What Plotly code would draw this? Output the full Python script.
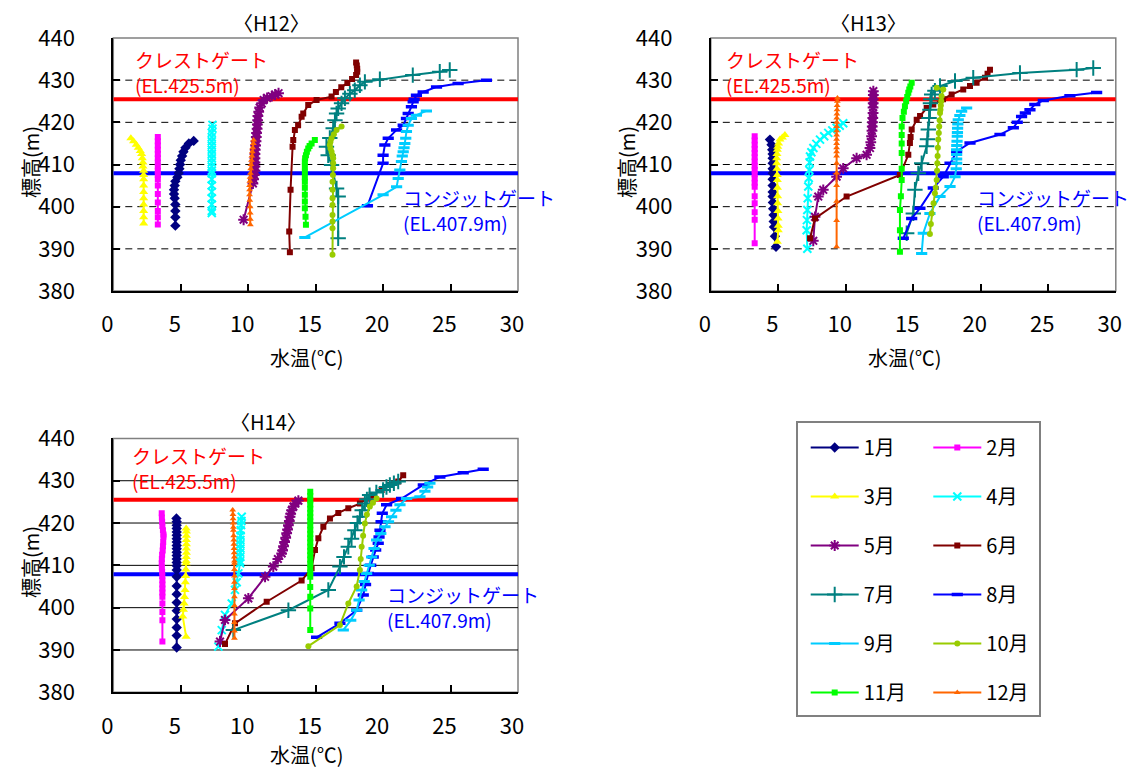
import plotly.graph_objects as go

# the page body adds an 8 px margin, so the figure is drawn 8 px smaller and
# every reference pixel position is shifted by that offset
OFF = 8
W, H = 1142 - OFF, 769 - OFF

# ---------------- data ----------------
X_RANGE = [0, 30]
Y_RANGE = [380, 440]
X_TICKS = [0, 5, 10, 15, 20, 25, 30]
Y_TICKS = [380, 390, 400, 410, 420, 430, 440]
GRID_EL = [390, 400, 410, 420, 430]
CREST_EL = 425.5
CONDUIT_EL = 407.9
MONTHS = ["1月", "2月", "3月", "4月", "5月", "6月", "7月", "8月", "9月", "10月", "11月", "12月"]
PANEL_TITLES = ["〈H12〉", "〈H13〉", "〈H14〉"]

# ---- H12 ----
H12_M01_E = [415.6, 415.0, 414.0, 413.0, 412.0, 411.0, 410.0, 409.0, 408.0, 407.0, 406.0, 405.0, 404.0, 403.0, 402.0, 400.5, 399.0, 397.5, 395.5]
H12_M01_T = [5.96, 5.6, 5.35, 5.2, 5.1, 5.0, 4.95, 4.9, 4.85, 4.75, 4.6, 4.55, 4.5, 4.5, 4.55, 4.6, 4.6, 4.6, 4.6]
H12_M02_E = [416.5, 415.5, 414.5, 413.5, 412.5, 411.5, 410.5, 409.5, 408.5, 407.5, 406.5, 405.0, 403.0, 401.0, 399.0, 397.5, 395.8]
H12_M02_T = [3.3, 3.3, 3.3, 3.3, 3.3, 3.3, 3.3, 3.3, 3.3, 3.3, 3.3, 3.3, 3.3, 3.3, 3.3, 3.3, 3.3]
H12_M03_E = [416.2, 415.5, 414.7, 414.0, 413.2, 412.5, 411.5, 410.5, 409.5, 408.5, 407.5, 406.5, 405.0, 403.5, 402.0, 400.5, 399.0, 397.5, 396.0]
H12_M03_T = [1.3, 1.5, 1.7, 1.85, 2.0, 2.1, 2.15, 2.2, 2.2, 2.25, 2.25, 2.25, 2.25, 2.25, 2.25, 2.25, 2.25, 2.25, 2.25]
H12_M04_E = [419.4, 418.5, 417.5, 416.5, 415.5, 414.5, 413.5, 412.5, 411.5, 410.5, 409.5, 408.5, 407.9, 406.5, 405.0, 403.5, 402.0, 400.5, 399.0, 398.5]
H12_M04_T = [7.35, 7.35, 7.3, 7.3, 7.3, 7.3, 7.3, 7.3, 7.3, 7.3, 7.3, 7.3, 7.3, 7.3, 7.3, 7.3, 7.3, 7.3, 7.3, 7.3]
H12_M05_E = [426.9, 426.6, 426.2, 425.8, 425.3, 424.5, 423.5, 422.5, 421.5, 420.5, 419.5, 418.5, 417.5, 416.5, 415.5, 414.5, 413.5, 412.5, 411.5, 410.5, 409.5, 408.5, 407.5, 406.5, 405.5, 396.9]
H12_M05_T = [12.25, 12.0, 11.75, 11.4, 11.15, 11.0, 10.85, 10.78, 10.72, 10.7, 10.68, 10.66, 10.62, 10.6, 10.58, 10.55, 10.52, 10.5, 10.5, 10.5, 10.5, 10.5, 10.45, 10.4, 10.35, 9.66]
H12_M06_E = [434.2, 433.5, 432.7, 432.0, 431.2, 430.3, 429.3, 428.3, 427.2, 426.1, 425.3, 424.1, 422.1, 421.3, 419.3, 418.2, 415.8, 414.2, 404.0, 394.1, 389.2]
H12_M06_T = [18.0, 18.05, 18.08, 18.08, 18.0, 17.7, 17.35, 16.9, 16.5, 16.18, 15.07, 14.45, 14.08, 13.96, 13.7, 13.46, 13.34, 13.29, 13.14, 13.04, 13.09]
H12_M07_E = [432.4, 432.0, 431.2, 430.2, 429.6, 428.8, 427.6, 426.8, 425.7, 424.5, 423.3, 422.1, 420.5, 418.6, 416.3, 414.2, 412.2, 409.9, 404.3, 402.4, 392.5]
H12_M07_T = [24.94, 24.2, 22.2, 19.76, 18.65, 18.28, 17.9, 17.54, 17.17, 16.92, 16.67, 16.55, 16.43, 16.3, 16.05, 15.8, 15.93, 16.18, 16.55, 16.67, 16.67]
H12_M08_E = [430.0, 429.2, 428.4, 427.2, 426.4, 425.5, 424.9, 423.7, 422.1, 420.9, 419.3, 418.2, 416.2, 414.6, 412.2, 410.3, 400.2]
H12_M08_T = [27.66, 25.56, 23.96, 22.97, 22.47, 22.3, 22.23, 22.1, 21.86, 21.73, 21.49, 21.0, 20.38, 20.13, 20.0, 20.0, 18.84]
H12_M09_E = [422.7, 421.7, 420.9, 419.3, 417.8, 416.2, 415.0, 414.0, 413.0, 412.0, 410.7, 408.7, 406.7, 404.7, 402.8, 392.7]
H12_M09_T = [23.21, 22.47, 22.1, 21.86, 21.73, 21.68, 21.61, 21.55, 21.49, 21.42, 21.36, 21.24, 21.12, 21.0, 20.0, 14.2]
H12_M10_E = [419.0, 418.2, 417.2, 416.2, 415.4, 414.6, 413.8, 413.0, 412.2, 411.5, 410.3, 409.1, 407.5, 405.9, 404.0, 402.0, 400.4, 398.0, 396.5, 394.9, 388.6]
H12_M10_T = [16.92, 16.55, 16.35, 16.18, 16.1, 16.05, 16.1, 16.18, 16.25, 16.3, 16.3, 16.3, 16.28, 16.25, 16.25, 16.25, 16.25, 16.25, 16.25, 16.25, 16.25]
H12_M11_E = [415.8, 415.0, 414.4, 413.8, 413.0, 412.2, 411.5, 410.7, 409.5, 408.3, 407.0, 405.9, 404.5, 402.8, 401.2, 399.6, 397.6, 395.7]
H12_M11_T = [14.94, 14.7, 14.55, 14.45, 14.35, 14.28, 14.22, 14.2, 14.2, 14.2, 14.2, 14.2, 14.2, 14.2, 14.2, 14.2, 14.25, 14.28]
H12_M12_E = [415.8, 415.0, 414.0, 413.0, 412.0, 411.0, 410.0, 409.0, 407.9, 407.0, 406.0, 405.0, 404.0, 402.8, 401.5, 400.0, 398.5, 397.0, 395.7]
H12_M12_T = [10.4, 10.38, 10.33, 10.3, 10.27, 10.24, 10.2, 10.18, 10.16, 10.14, 10.12, 10.1, 10.1, 10.1, 10.12, 10.14, 10.15, 10.16, 10.16]

# ---- H13 ----
H13_M01_E = [415.9, 414.7, 413.5, 412.5, 411.5, 410.3, 409.0, 407.9, 406.5, 405.0, 403.5, 402.4, 401.0, 399.5, 398.0, 396.5, 395.2, 393.0, 390.5]
H13_M01_T = [4.38, 4.5, 4.55, 4.58, 4.58, 4.58, 4.58, 4.58, 4.58, 4.58, 4.58, 4.58, 4.6, 4.62, 4.65, 4.66, 4.68, 4.75, 4.83]
H13_M02_E = [416.7, 415.7, 414.7, 413.7, 412.7, 411.7, 410.7, 409.7, 408.7, 407.7, 406.7, 405.7, 404.7, 402.5, 400.8, 398.7, 396.9, 391.3]
H13_M02_T = [3.25, 3.25, 3.25, 3.25, 3.25, 3.25, 3.25, 3.25, 3.25, 3.25, 3.25, 3.25, 3.25, 3.25, 3.25, 3.25, 3.25, 3.25]
H13_M03_E = [417.0, 416.4, 415.9, 415.0, 414.2, 413.5, 412.5, 411.5, 410.3, 409.0, 407.5, 406.3, 404.5, 402.5, 400.8, 399.0, 397.2, 395.5, 394.4, 391.7]
H13_M03_T = [5.49, 5.3, 5.12, 5.02, 4.96, 4.93, 4.9, 4.88, 4.88, 4.9, 4.92, 4.93, 4.94, 4.95, 4.95, 4.97, 4.98, 5.0, 5.0, 4.93]
H13_M04_E = [419.8, 419.2, 418.7, 418.1, 417.5, 416.7, 415.9, 414.9, 413.9, 412.9, 411.9, 410.5, 408.7, 406.8, 404.8, 402.0, 399.2, 396.8, 394.4, 390.0]
H13_M04_T = [9.81, 9.55, 9.32, 9.0, 8.7, 8.4, 8.09, 7.82, 7.6, 7.45, 7.35, 7.32, 7.3, 7.26, 7.22, 7.18, 7.15, 7.12, 7.1, 7.15]
H13_M05_E = [427.4, 426.5, 425.5, 424.5, 423.5, 422.2, 421.0, 420.0, 419.0, 418.0, 416.7, 415.3, 413.9, 412.3, 411.5, 409.1, 407.1, 404.0, 402.4, 397.6, 391.9]
H13_M05_T = [12.04, 12.04, 12.04, 12.03, 12.02, 12.02, 12.0, 11.98, 11.96, 11.94, 11.91, 11.85, 11.79, 11.54, 10.8, 9.81, 9.32, 8.33, 7.96, 7.72, 7.59]
H13_M06_E = [432.5, 431.5, 430.6, 429.4, 428.6, 427.8, 426.6, 425.5, 424.2, 423.4, 421.5, 420.6, 418.3, 416.5, 415.1, 412.3, 407.5, 402.4, 397.2, 392.5]
H13_M06_T = [20.68, 20.5, 20.31, 19.69, 19.2, 18.7, 17.84, 17.2, 16.48, 15.99, 15.5, 15.25, 14.88, 14.8, 14.75, 14.63, 14.01, 10.06, 7.72, 7.35]
H13_M07_E = [432.9, 432.5, 431.7, 430.6, 429.8, 428.6, 427.5, 426.6, 425.5, 424.5, 423.0, 421.0, 418.3, 416.0, 414.3, 410.3, 407.9, 404.0, 398.4, 393.7]
H13_M07_T = [28.33, 27.1, 22.9, 19.44, 18.09, 16.98, 16.6, 16.36, 16.3, 16.27, 16.23, 16.17, 16.11, 16.05, 15.99, 15.62, 15.37, 15.12, 15.0, 14.51]
H13_M08_E = [427.1, 426.3, 425.2, 424.2, 423.0, 422.2, 421.4, 420.0, 418.7, 417.1, 415.1, 413.1, 410.3, 407.1, 404.4, 399.6, 397.2, 392.5]
H13_M08_T = [28.58, 26.6, 24.63, 24.0, 23.64, 23.3, 23.02, 22.7, 22.41, 21.42, 19.2, 18.21, 17.72, 17.22, 16.48, 15.49, 14.88, 14.26]
H13_M09_E = [423.4, 422.6, 421.6, 420.6, 419.6, 418.6, 417.6, 416.7, 415.5, 414.5, 413.5, 412.4, 411.3, 410.3, 409.0, 407.1, 404.8, 402.4, 398.4, 393.7, 388.9]
H13_M09_T = [18.95, 18.58, 18.45, 18.33, 18.3, 18.28, 18.27, 18.26, 18.24, 18.22, 18.21, 18.21, 18.21, 18.21, 18.18, 18.09, 17.72, 16.98, 16.23, 15.74, 15.62]
H13_M10_E = [428.2, 427.8, 426.2, 425.0, 424.0, 423.0, 422.2, 420.5, 419.0, 417.5, 415.9, 414.0, 412.0, 410.3, 408.5, 406.3, 404.5, 403.2, 400.8, 398.4, 395.9, 393.5]
H13_M10_T = [16.73, 17.22, 17.1, 17.07, 17.04, 17.01, 16.98, 16.95, 16.92, 16.89, 16.85, 16.82, 16.8, 16.78, 16.76, 16.73, 16.66, 16.6, 16.5, 16.36, 16.3, 16.23]
H13_M11_E = [429.4, 428.5, 427.8, 427.0, 426.0, 425.0, 423.8, 422.5, 421.0, 419.0, 417.0, 415.0, 412.7, 409.0, 406.3, 402.5, 399.2, 394.4, 389.3]
H13_M11_T = [14.88, 14.78, 14.7, 14.63, 14.55, 14.47, 14.38, 14.3, 14.2, 14.14, 14.14, 14.14, 14.14, 14.14, 14.14, 14.08, 14.01, 14.01, 14.01]
H13_M12_E = [425.8, 425.0, 424.0, 423.0, 422.0, 421.0, 420.0, 419.0, 418.0, 417.0, 416.0, 415.0, 414.0, 413.0, 412.0, 410.3, 408.0, 405.0, 401.3, 396.7, 390.5]
H13_M12_T = [9.38, 9.37, 9.36, 9.35, 9.34, 9.33, 9.33, 9.32, 9.32, 9.32, 9.32, 9.32, 9.32, 9.32, 9.32, 9.32, 9.32, 9.32, 9.32, 9.32, 9.32]

# ---- H14 ----
H14_M01_E = [421.1, 420.3, 419.5, 418.7, 417.9, 417.1, 416.3, 415.5, 414.7, 413.9, 413.1, 412.3, 411.5, 410.7, 409.9, 408.9, 407.3, 405.1, 403.2, 401.2, 399.3, 397.3, 395.3, 393.4, 390.6]
H14_M01_T = [4.68, 4.7, 4.7, 4.7, 4.7, 4.7, 4.7, 4.7, 4.7, 4.7, 4.7, 4.7, 4.7, 4.7, 4.7, 4.7, 4.7, 4.7, 4.7, 4.7, 4.7, 4.7, 4.7, 4.7, 4.7]
H14_M02_E = [422.3, 421.3, 420.3, 419.3, 418.3, 417.3, 416.8, 415.5, 414.5, 413.5, 412.5, 411.5, 410.5, 409.5, 408.5, 407.5, 406.5, 405.5, 404.5, 403.6, 402.6, 401.0, 399.0, 397.0, 392.0]
H14_M02_T = [3.59, 3.6, 3.62, 3.64, 3.68, 3.72, 3.72, 3.7, 3.68, 3.66, 3.62, 3.6, 3.59, 3.6, 3.62, 3.63, 3.64, 3.64, 3.64, 3.64, 3.64, 3.64, 3.64, 3.64, 3.64]
H14_M03_E = [418.7, 418.0, 417.0, 416.0, 415.0, 414.0, 413.0, 412.0, 411.0, 410.5, 409.0, 407.5, 406.0, 404.2, 402.5, 401.0, 399.5, 397.9, 393.1]
H14_M03_T = [5.4, 5.42, 5.42, 5.42, 5.42, 5.42, 5.42, 5.41, 5.4, 5.4, 5.38, 5.36, 5.34, 5.32, 5.28, 5.25, 5.2, 5.15, 5.4]
H14_M04_E = [421.5, 420.5, 419.5, 418.3, 417.0, 416.0, 415.0, 414.0, 413.0, 412.0, 411.0, 410.5, 408.1, 406.0, 404.2, 401.0, 398.3, 394.7, 390.8]
H14_M04_T = [9.52, 9.5, 9.47, 9.44, 9.43, 9.42, 9.42, 9.42, 9.41, 9.41, 9.4, 9.4, 9.27, 9.15, 9.02, 8.78, 8.28, 8.04, 7.79]
H14_M05_E = [425.3, 424.6, 423.9, 423.0, 422.2, 421.5, 420.5, 419.5, 418.5, 417.6, 416.5, 415.5, 414.5, 413.5, 412.8, 411.5, 409.7, 407.3, 402.2, 397.1, 392.0]
H14_M05_T = [13.72, 13.5, 13.35, 13.22, 13.15, 13.1, 13.05, 12.98, 12.92, 12.85, 12.78, 12.7, 12.62, 12.55, 12.48, 12.2, 11.86, 11.25, 10.01, 8.28, 7.91]
H14_M06_E = [431.3, 429.8, 429.0, 427.8, 426.6, 424.6, 423.5, 422.4, 421.1, 419.1, 416.4, 413.6, 409.3, 406.4, 401.4, 396.3, 391.4]
H14_M06_T = [21.49, 21.12, 20.5, 19.89, 19.15, 18.28, 17.42, 16.68, 16.06, 15.57, 15.2, 14.95, 14.7, 13.96, 11.37, 9.02, 8.28]
H14_M07_E = [429.8, 429.4, 429.0, 428.5, 427.8, 427.2, 426.6, 425.6, 424.6, 423.0, 421.5, 420.0, 418.3, 416.3, 414.4, 412.0, 409.7, 404.2, 399.4, 394.7]
H14_M07_T = [21.12, 20.8, 20.5, 20.25, 20.0, 19.5, 19.0, 18.8, 18.65, 18.45, 18.28, 18.1, 17.91, 17.66, 17.42, 17.1, 16.8, 15.94, 12.98, 8.9]
H14_M08_E = [432.7, 431.9, 430.9, 429.0, 425.8, 424.3, 422.3, 420.3, 418.3, 416.7, 415.2, 413.6, 412.0, 410.0, 408.1, 405.5, 403.0, 399.4, 396.3, 393.0]
H14_M08_T = [27.42, 25.94, 24.21, 22.98, 21.37, 20.26, 19.94, 19.85, 19.77, 19.7, 19.64, 19.45, 19.27, 19.08, 18.9, 18.7, 18.53, 18.04, 16.8, 15.07]
H14_M09_E = [429.4, 428.5, 427.5, 426.2, 425.8, 424.3, 423.0, 421.5, 420.3, 419.1, 417.5, 416.0, 414.0, 412.0, 410.0, 408.1, 406.2, 404.2, 401.8, 399.4, 397.0, 394.7]
H14_M09_T = [23.47, 23.3, 23.1, 22.73, 21.74, 21.25, 20.95, 20.63, 20.4, 20.14, 19.83, 19.52, 19.33, 19.15, 18.97, 18.78, 18.6, 18.41, 18.22, 18.04, 17.6, 17.05]
H14_M10_E = [425.8, 424.8, 423.9, 422.0, 419.9, 417.0, 414.4, 411.5, 408.9, 405.0, 401.0, 395.9, 390.9]
H14_M10_T = [19.52, 19.25, 19.02, 18.8, 18.65, 18.52, 18.41, 18.34, 18.28, 18.04, 17.42, 16.8, 14.46]
H14_M11_E = [427.4, 426.4, 425.4, 424.4, 423.4, 422.4, 421.4, 420.4, 419.4, 418.4, 417.4, 416.4, 415.4, 414.4, 413.4, 412.4, 411.4, 410.4, 409.4, 408.3, 407.3, 404.9, 402.6, 399.8, 394.7]
H14_M11_T = [14.6, 14.6, 14.6, 14.6, 14.6, 14.6, 14.6, 14.6, 14.6, 14.6, 14.6, 14.6, 14.6, 14.6, 14.6, 14.6, 14.6, 14.6, 14.6, 14.6, 14.6, 14.6, 14.6, 14.6, 14.6]
H14_M12_E = [423.1, 422.0, 421.0, 420.0, 419.0, 418.3, 417.0, 416.0, 415.0, 414.0, 413.0, 412.0, 411.0, 410.5, 409.0, 407.5, 406.0, 404.5, 402.6, 400.5, 398.5, 396.5, 394.5, 392.8]
H14_M12_T = [8.85, 8.87, 8.88, 8.89, 8.9, 8.9, 8.92, 8.93, 8.94, 8.95, 8.96, 8.97, 8.98, 8.98, 8.98, 8.98, 8.98, 8.98, 8.98, 8.98, 8.98, 8.98, 8.98, 8.98]

PANEL_DATA = [
    [(H12_M01_T, H12_M01_E), (H12_M02_T, H12_M02_E), (H12_M03_T, H12_M03_E), (H12_M04_T, H12_M04_E),
     (H12_M05_T, H12_M05_E), (H12_M06_T, H12_M06_E), (H12_M07_T, H12_M07_E), (H12_M08_T, H12_M08_E),
     (H12_M09_T, H12_M09_E), (H12_M10_T, H12_M10_E), (H12_M11_T, H12_M11_E), (H12_M12_T, H12_M12_E)],
    [(H13_M01_T, H13_M01_E), (H13_M02_T, H13_M02_E), (H13_M03_T, H13_M03_E), (H13_M04_T, H13_M04_E),
     (H13_M05_T, H13_M05_E), (H13_M06_T, H13_M06_E), (H13_M07_T, H13_M07_E), (H13_M08_T, H13_M08_E),
     (H13_M09_T, H13_M09_E), (H13_M10_T, H13_M10_E), (H13_M11_T, H13_M11_E), (H13_M12_T, H13_M12_E)],
    [(H14_M01_T, H14_M01_E), (H14_M02_T, H14_M02_E), (H14_M03_T, H14_M03_E), (H14_M04_T, H14_M04_E),
     (H14_M05_T, H14_M05_E), (H14_M06_T, H14_M06_E), (H14_M07_T, H14_M07_E), (H14_M08_T, H14_M08_E),
     (H14_M09_T, H14_M09_E), (H14_M10_T, H14_M10_E), (H14_M11_T, H14_M11_E), (H14_M12_T, H14_M12_E)],
]

# ---------------- styles ----------------
FONT = "Noto Sans CJK JP"
STYLES = [
    dict(color="#000080", symbol="diamond", size=8, open=False),
    dict(color="#FF00FF", symbol="square", size=6, open=False),
    dict(color="#FFFF00", symbol="triangle-up", size=8, open=False),
    dict(color="#00FFFF", symbol="x-thin-open", size=8, open=True),
    dict(color="#800080", symbol="asterisk-open", size=9, open=True),
    dict(color="#800000", symbol="square", size=6, open=False),
    dict(color="#008080", symbol="cross-thin-open", size=11, open=True),
    dict(color="#0000FF", symbol="line-ew-open", size=8, open=True, lw=3.5),
    dict(color="#00CCFF", symbol="line-ew-open", size=8, open=True, lw=3),
    dict(color="#99CC00", symbol="circle", size=6, open=False),
    dict(color="#00FF00", symbol="square", size=6, open=False),
    dict(color="#FF6600", symbol="triangle-up", size=6, open=False),
]

def px(x):
    return (x - OFF) / W

def py(y):
    return 1 - (y - OFF) / H

# panel geometry (reference pixels)
PANELS = [
    dict(x0=113.3, x1=518.0, y0=38.0, y1=291.0, xa="x", ya="y", grid_dash="7px,5px"),
    dict(x0=710.8, x1=1115.8, y0=38.0, y1=291.0, xa="x2", ya="y2", grid_dash="7px,5px"),
    dict(x0=113.3, x1=518.0, y0=438.4, y1=692.3, xa="x3", ya="y3", grid_dash="solid"),
]

fig = go.Figure()

for p, pan in enumerate(PANELS):
    for el, col in [(CREST_EL, "#FF0000"), (CONDUIT_EL, "#0000FF")]:
        fig.add_trace(go.Scatter(x=X_RANGE, y=[el, el], mode="lines",
                                 line=dict(color=col, width=4), showlegend=False,
                                 hoverinfo="skip", xaxis=pan["xa"], yaxis=pan["ya"]))
    for m in range(12):
        t, e = PANEL_DATA[p][m]
        st = STYLES[m]
        if st["open"]:
            mk = dict(symbol=st["symbol"], size=st["size"], color=st["color"],
                      line=dict(color=st["color"], width=st.get("lw", 2)))
        else:
            mk = dict(symbol=st["symbol"], size=st["size"], color=st["color"],
                      line=dict(width=0))
        fig.add_trace(go.Scatter(
            x=t, y=e, mode="lines+markers", name=MONTHS[m],
            legendgroup=MONTHS[m], showlegend=(p == 0),
            legend="legend" if m % 2 == 0 else "legend2",
            line=dict(color=st["color"], width=2), marker=mk,
            xaxis=pan["xa"], yaxis=pan["ya"]))

layout = dict(
    width=W, height=H, margin=dict(l=0, r=0, t=0, b=0, pad=0, autoexpand=False),
    paper_bgcolor="white", plot_bgcolor="white",
    font=dict(family=FONT, color="black"),
    showlegend=True,
)

shapes = []
annotations = []
for i, pan in enumerate(PANELS):
    sfx = "" if i == 0 else str(i + 1)
    xdom = [px(pan["x0"]), px(pan["x1"])]
    ydom = [py(pan["y1"]), py(pan["y0"])]
    layout["xaxis" + sfx] = dict(
        domain=xdom, anchor=pan["ya"], range=X_RANGE, tickvals=X_TICKS, automargin=False,
        ticks="inside", ticklen=7, tickwidth=1.5, tickcolor="black",
        showline=True, linecolor="black", linewidth=2, showgrid=False, zeroline=False,
        tickfont=dict(size=22, color="black", family=FONT),
        ticklabelstandoff=13, ticklabelshift=-6, fixedrange=True)
    layout["yaxis" + sfx] = dict(
        domain=ydom, anchor=pan["xa"], range=Y_RANGE, tickvals=Y_TICKS, automargin=False,
        ticks="inside", ticklen=7, tickwidth=1.5, tickcolor="black",
        showline=True, linecolor="black", linewidth=2, showgrid=False, zeroline=False,
        tickfont=dict(size=22, color="black", family=FONT),
        ticklabelstandoff=32, fixedrange=True)
    shapes.append(dict(type="rect", xref=pan["xa"] + " domain", yref=pan["ya"] + " domain",
                       x0=0, x1=1, y0=0, y1=1, line=dict(color="#808080", width=1.5),
                       layer="below"))
    for g in GRID_EL:
        shapes.append(dict(type="line", xref=pan["xa"] + " domain", yref=pan["ya"],
                           x0=0, x1=1, y0=g, y1=g,
                           line=dict(color="black", width=1, dash=pan["grid_dash"]),
                           layer="below"))

TITLE_POS = [(271, 23), (868, 23), (268, 421)]
XLAB_POS = [(307, 357), (905, 357), (307, 754)]
YLAB_POS = [(30, 162), (626, 162), (30, 562)]
for i in range(3):
    annotations.append(dict(text=PANEL_TITLES[i], x=px(TITLE_POS[i][0]), y=py(TITLE_POS[i][1]),
                            xref="paper", yref="paper", showarrow=False, borderpad=0,
                            xanchor="center", yanchor="middle", font=dict(size=20, family=FONT)))
    annotations.append(dict(text="水温(℃)", x=px(XLAB_POS[i][0]), y=py(XLAB_POS[i][1]),
                            xref="paper", yref="paper", showarrow=False, borderpad=0,
                            xanchor="center", yanchor="middle", font=dict(size=20, family=FONT)))
    annotations.append(dict(text="標高(m)", x=px(YLAB_POS[i][0]), y=py(YLAB_POS[i][1]),
                            xref="paper", yref="paper", showarrow=False, textangle=-90, borderpad=0,
                            xanchor="center", yanchor="middle", font=dict(size=20, family=FONT)))

# gate labels: (x_left, y_center_of_block, name, elevation text, colour)
GATE_LABELS = [
    (134, 72, "クレストゲート", "(EL.425.5m)", "#FF0000"),
    (402, 210, "コンジットゲート", "(EL.407.9m)", "#0000FF"),
    (725, 72, "クレストゲート", "(EL.425.5m)", "#FF0000"),
    (976, 210, "コンジットゲート", "(EL.407.9m)", "#0000FF"),
    (131, 468, "クレストゲート", "(EL.425.5m)", "#FF0000"),
    (386, 607, "コンジットゲート", "(EL.407.9m)", "#0000FF"),
]
for (x, y, name, elt, col) in GATE_LABELS:
    annotations.append(dict(
        text=name + "<br>" + elt,
        x=px(x), y=py(y), xref="paper", yref="paper", showarrow=False,
        xanchor="left", yanchor="middle", align="left", borderpad=0,
        font=dict(size=19, color=col, family=FONT)))

shapes.append(dict(type="rect", xref="paper", yref="paper", x0=px(797), x1=px(1040),
                   y0=py(716), y1=py(422), line=dict(color="#808080", width=2),
                   fillcolor="white", layer="below"))

LEG_COMMON = dict(orientation="v", traceorder="grouped", tracegroupgap=20,
                  bgcolor="rgba(0,0,0,0)", borderwidth=0, itemwidth=48,
                  font=dict(size=20, family=FONT, color="black"),
                  xanchor="left", yanchor="top", itemclick=False, itemdoubleclick=False)
layout["legend"] = dict(LEG_COMMON, x=px(805.7), y=py(428))
layout["legend2"] = dict(LEG_COMMON, x=px(928.3), y=py(428))
layout["shapes"] = shapes
layout["annotations"] = annotations

fig.update_layout(**layout)
fig.write_html("out.html")
